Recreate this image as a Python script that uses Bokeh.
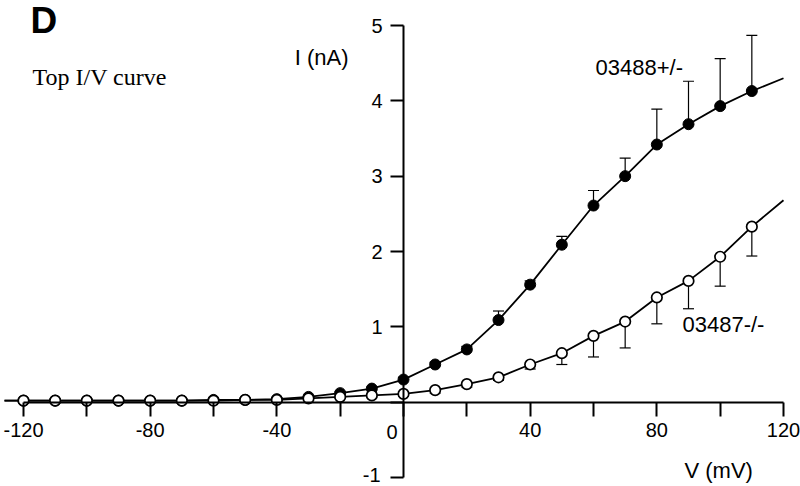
import numpy as np
from bokeh.plotting import figure
from bokeh.models import ColumnDataSource, Whisker, TeeHead, FixedTicker, Label, Range1d
from bokeh.embed import file_html
from bokeh.resources import INLINE

# ---- data ----
voltage_mV = [-120, -110, -100, -90, -80, -70, -60, -50, -40, -30, -20, -10,
              0, 10, 20, 30, 40, 50, 60, 70, 80, 90, 100, 110]
het_03488 = [0.02, 0.02, 0.02, 0.02, 0.02, 0.02, 0.03, 0.03, 0.04, 0.07, 0.12, 0.18,
             0.30, 0.50, 0.70, 1.09, 1.56, 2.09, 2.61, 3.00, 3.42, 3.69, 3.93, 4.13]
het_sd = [0.01, 0.01, 0.01, 0.01, 0.01, 0.01, 0.01, 0.01, 0.01, 0.01, 0.02, 0.02,
          0.03, 0.03, 0.04, 0.12, 0.05, 0.11, 0.20, 0.24, 0.47, 0.57, 0.63, 0.74]
ko_03487 = [0.02, 0.02, 0.02, 0.02, 0.02, 0.02, 0.02, 0.03, 0.03, 0.05, 0.07, 0.09,
            0.11, 0.16, 0.24, 0.33, 0.50, 0.65, 0.88, 1.07, 1.39, 1.61, 1.93, 2.33]
ko_sd = [0.02, 0.02, 0.02, 0.02, 0.02, 0.02, 0.02, 0.02, 0.02, 0.02, 0.02, 0.02,
         0.03, 0.04, 0.04, 0.04, 0.06, 0.15, 0.28, 0.35, 0.35, 0.37, 0.39, 0.39]
# fitted curves: extended past the data at both ends
fit_start_mV, fit_end_mV = -126, 120
het_fit_start, het_fit_end = 0.02, 4.30
ko_fit_start, ko_fit_end = 0.02, 2.68

x_ticks = [-120, -100, -80, -60, -40, -20, 0, 20, 40, 60, 80, 100, 120]
x_tick_labels = {-120: "-120", -80: "-80", -40: "-40", 40: "40", 80: "80", 120: "120"}
y_ticks = [-1, 0, 1, 2, 3, 4, 5]
y_tick_labels = {1: "1", 2: "2", 3: "3", 4: "4", 5: "5"}

W, H = 800, 486
p = figure(width=W, height=H, output_backend="svg", toolbar_location=None,
           x_range=Range1d(-127.263, 125.368), y_range=Range1d(-1.1195, 5.3319),
           min_border=0, min_border_left=0, min_border_right=0,
           min_border_top=0, min_border_bottom=0)
p.outline_line_color = None
p.grid.visible = False
p.background_fill_color = "white"
p.border_fill_color = "white"

SANS = "Liberation Sans"

# axes crossing at the origin
xa = p.xaxis[0]
xa.fixed_location = 0
xa.bounds = (-120, 120)
xa.ticker = FixedTicker(ticks=x_ticks)
xa.major_label_overrides = {t: x_tick_labels.get(t, "") for t in x_ticks}
xa.major_tick_out = 14
xa.major_tick_in = 0
xa.minor_tick_out = 0
xa.minor_tick_in = 0
xa.axis_line_width = 2
xa.major_tick_line_width = 2
xa.major_label_standoff = 7
xa.major_label_text_font = SANS
xa.major_label_text_font_size = "20px"
xa.major_label_text_color = "black"

ya = p.yaxis[0]
ya.fixed_location = 0
ya.bounds = (-1, 5)
ya.ticker = FixedTicker(ticks=y_ticks)
ya.major_label_overrides = {t: y_tick_labels.get(t, "") for t in y_ticks}
ya.major_tick_out = 13
ya.major_tick_in = 0
ya.minor_tick_out = 0
ya.minor_tick_in = 0
ya.axis_line_width = 2
ya.major_tick_line_width = 2
ya.major_label_standoff = 8
ya.major_label_text_font = SANS
ya.major_label_text_font_size = "20px"
ya.major_label_text_color = "black"

# fitted curves
p.line([fit_start_mV] + voltage_mV + [fit_end_mV], [het_fit_start] + het_03488 + [het_fit_end],
       line_color="black", line_width=1.8)
p.line([fit_start_mV] + voltage_mV + [fit_end_mV], [ko_fit_start] + ko_03487 + [ko_fit_end],
       line_color="black", line_width=1.8)

# error bars (one-sided)
het = np.array(het_03488); hsd = np.array(het_sd)
ko = np.array(ko_03487); ksd = np.array(ko_sd)
src_h = ColumnDataSource(dict(base=voltage_mV, lower=het, upper=het + hsd))
src_k = ColumnDataSource(dict(base=voltage_mV, lower=ko - ksd, upper=ko))
p.add_layout(Whisker(source=src_h, base="base", lower="lower", upper="upper",
                     line_color="black", line_width=1.2, level="underlay",
                     upper_head=TeeHead(size=11, line_width=1.2, line_color="black"),
                     lower_head=None))
p.add_layout(Whisker(source=src_k, base="base", lower="lower", upper="upper",
                     line_color="black", line_width=1.2, level="underlay",
                     lower_head=TeeHead(size=11, line_width=1.2, line_color="black"),
                     upper_head=None))

# markers
p.scatter(voltage_mV, het_03488, size=11, fill_color="black", line_color="black", line_width=1)
p.scatter(voltage_mV, ko_03487, size=10.5, fill_color="white", line_color="black", line_width=1.7)

def lab(text, x, y, size, font=SANS, style="normal", align="left", baseline="alphabetic"):
    p.add_layout(Label(x=x, y=y, x_units="screen", y_units="screen", text=text,
                       text_font=font, text_font_size=size, text_font_style=style,
                       text_color="black", text_align=align, text_baseline=baseline))

lab("D", 30, 466, "37px", style="bold")
lab("Top I/V curve", 32, 410, "24px", font="Liberation Serif")
lab("I (nA)", 348, 429, "22px", align="right")
lab("03488+/-", 595, 419, "22px")
lab("03487-/-", 682, 162, "22px")
lab("V (mV)", 684, 16, "22px")
lab("0", 391.5, 55, "20px", align="center")
lab("-1", 380, 12, "20px", align="right")

open("out.html", "w").write(file_html(p, INLINE))
